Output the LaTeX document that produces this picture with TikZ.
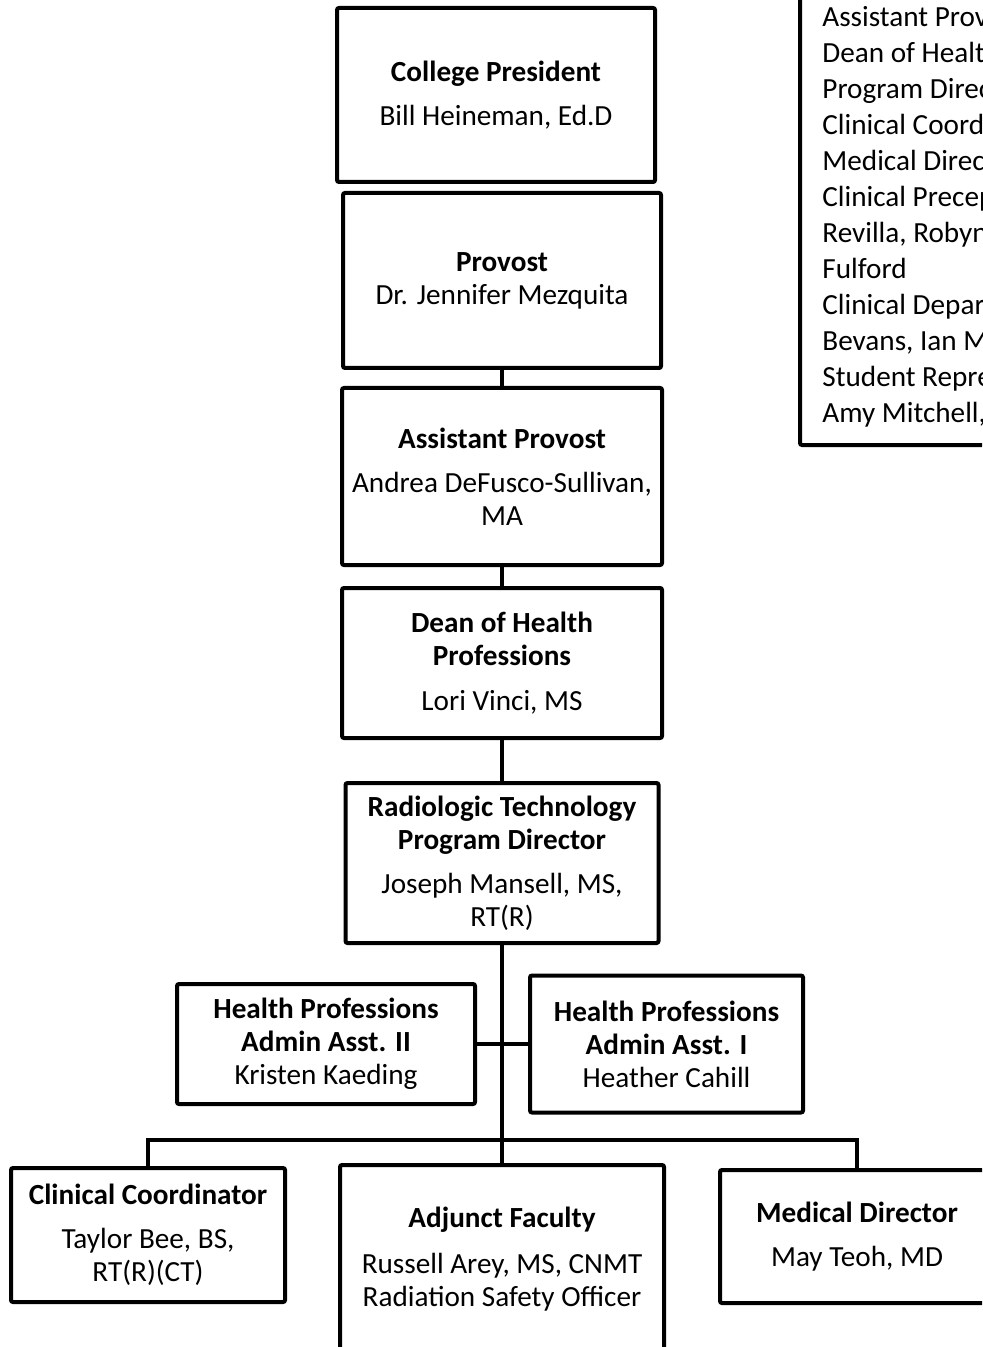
\documentclass[tikz,border=0pt]{standalone}
\usepackage{fontspec}
\setmainfont{Carlito}
\usetikzlibrary{positioning}
\newcommand{\hd}[1]{\textbf{#1}}

\begin{document}
\begin{tikzpicture}[x=0.5pt,y=-0.5pt,
    post/.style={draw,line width=2pt,rounded corners=1pt,align=center,inner sep=0pt,
      font={\fontsize{14.6pt}{16.5pt}\selectfont}},
    link/.style={line width=2pt}]
    \clip (0,0) rectangle (982,1347);
    \node[post,minimum width=159pt,minimum height=87pt] (pres) at (496,95)
      {\hd{College President}\\[5.5pt]Bill Heineman, Ed.D};
    \node[post,minimum width=159pt,minimum height=87.5pt] (prov) at (502,280.5)
      {\hd{Provost}\\Dr. Jennifer Mezquita};
    \node[post,minimum width=160pt,minimum height=88.5pt] (aprov) at (502,476.5)
      {\hd{Assistant Provost}\\[5.5pt]Andrea DeFusco-Sullivan,\\MA};
    \node[post,minimum width=160pt,minimum height=75pt] (dean) at (502,663)
      {\hd{Dean of Health}\\\hd{Professions}\\[6pt]Lori Vinci, MS};
    \node[post,minimum width=156.5pt,minimum height=80pt] (rtpd) at (502,863)
      {\hd{Radiologic Technology}\\\hd{Program Director}\\[5.5pt]Joseph Mansell, MS,\\RT(R)};
    \node[post,minimum width=149pt,minimum height=60pt] (aa2) at (326,1044)
      {\hd{Health Professions}\\\hd{Admin Asst. II}\\Kristen Kaeding};
    \node[post,minimum width=136.5pt,minimum height=68.5pt] (aa1) at (666.5,1044)
      {\hd{Health Professions}\\\hd{Admin Asst. I}\\Heather Cahill};
    \node[post,minimum width=137pt,minimum height=67pt] (cc) at (148,1235)
      {\hd{Clinical Coordinator}\\[5.5pt]Taylor Bee, BS,\\RT(R)(CT)};
    \node[post,minimum width=162pt,minimum height=94pt] (adj) at (502,1259)
      {\hd{Adjunct Faculty}\\[6.5pt]Russell Arey, MS, CNMT\\Radiation Safety Officer};
    \node[post,minimum width=137pt,minimum height=66.5pt] (md) at (857,1236.5)
      {\hd{Medical Director}\\[5.5pt]May Teoh, MD};
    % committee list, cut off by the page edge
    \node[post,minimum width=100pt,minimum height=227.5pt] (cmte) at (900,217.5) {};
    \node[align=left,inner sep=0pt,anchor=north west,
      font={\fontsize{14.6pt}{18pt}\selectfont}] (cmtetext) at (822,6)
      {Assistant Provost\\Dean of Health Professions\\Program Director\\
       Clinical Coordinator\\Medical Director\\Clinical Preceptors\\
       Revilla, Robyn\\Fulford\\Clinical Department\\Bevans, Ian M\\
       Student Representative\\Amy Mitchell,};
    \coordinate (bus) at (502,1140);
    \path[link]
    (prov) edge (aprov)
    (aprov) edge (dean)
    (dean) edge (rtpd)
    (rtpd) edge (adj)
    (aa2) edge (aa1)
    ; %end path
    \draw[link] (cc.north) |- (bus) -| (md.north);
\end{tikzpicture}
\end{document}
